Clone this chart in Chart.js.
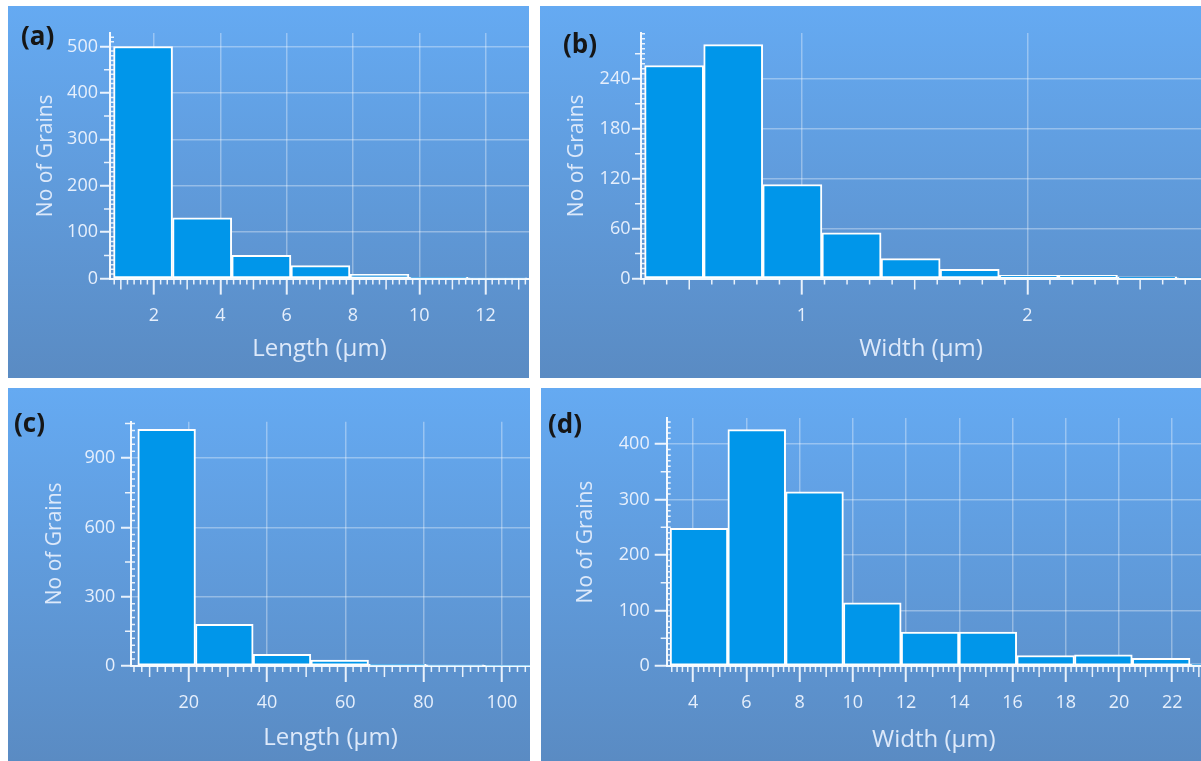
<!DOCTYPE html>
<html>
<head>
<meta charset="utf-8">
<script src="https://cdn.jsdelivr.net/npm/chart.js@4.4.1/dist/chart.umd.min.js"></script>
<style>
  html, body { margin: 0; padding: 0; background: #ffffff; }
  body { width: 1201px; height: 761px; position: relative; overflow: hidden; }
  .panel { position: absolute; background: linear-gradient(#65aaf2, #5a8bc3); }
  .panel canvas { position: absolute; left: 0; top: 0; }
  .tag { position: absolute; font: bold 26px "Open Sans", sans-serif; line-height: 26px; color: #161616; }
</style>
</head>
<body>

<div class="panel" style="left:8px;top:6px;width:521px;height:372px">
  <canvas id="chartA" width="521" height="372"></canvas>
  <div class="tag" style="left:13px;top:16px">(a)</div>
</div>
<div class="panel" style="left:540px;top:6px;width:661px;height:372px">
  <canvas id="chartB" width="661" height="372"></canvas>
  <div class="tag" style="left:23px;top:24px">(b)</div>
</div>
<div class="panel" style="left:8px;top:388px;width:522px;height:373px">
  <canvas id="chartC" width="522" height="373"></canvas>
  <div class="tag" style="left:6px;top:21px">(c)</div>
</div>
<div class="panel" style="left:541px;top:388px;width:660px;height:373px">
  <canvas id="chartD" width="660" height="373"></canvas>
  <div class="tag" style="left:7px;top:22px">(d)</div>
</div>

<script>
/* ===============================
   Data (bin centres and counts)
=============================== */

// (a) grain length
const lengthA_bins   = [1.67, 3.45, 5.24, 7.02, 8.80, 10.58, 12.36];
const lengthA_counts = [500, 131, 50, 28, 9, 3, 1];
const lengthA_xTicks = [2, 4, 6, 8, 10, 12];
const lengthA_yTicks = [0, 100, 200, 300, 400, 500];

// (b) grain width
const widthB_bins   = [0.433, 0.695, 0.957, 1.220, 1.482, 1.744, 2.006, 2.268, 2.531, 2.793];
const widthB_counts = [256, 281, 113, 55, 24, 11, 4, 4, 2, 1];
const widthB_xTicks = [1, 2];
const widthB_yTicks = [0, 60, 120, 180, 240];

// (c) grain length
const lengthC_bins   = [14.35, 29.09, 43.83, 58.57, 73.31, 88.05, 102.79];
const lengthC_counts = [1025, 181, 51, 26, 7, 5, 3];
const lengthC_xTicks = [20, 40, 60, 80, 100];
const lengthC_yTicks = [0, 300, 600, 900];

// (d) grain width
const widthD_bins   = [4.223, 6.393, 8.563, 10.733, 12.903, 15.073, 17.243, 19.413, 21.583, 23.753];
const widthD_counts = [248, 426, 314, 114, 61, 61, 19, 20, 14, 4];
const widthD_xTicks = [4, 6, 8, 10, 12, 14, 16, 18, 20, 22];
const widthD_yTicks = [0, 100, 200, 300, 400];

/* ===============================
   Styles
=============================== */

const barFill    = "#0096ea";
const barEdge    = "#ffffff";
const gridColor  = "rgba(255,255,255,0.34)";
const tickColor  = "rgba(245,250,255,0.92)";
const axisColor  = "rgba(248,252,255,0.97)";
const labelColor = "#e6effc";
const titleColor = "#dde9fa";
const fontFamily = "'Open Sans', sans-serif";

/* ===============================
   Minor tick marks
=============================== */

const minorTicks = {
    id: "minorTicks",
    afterDraw(chart, args, o) {
        const { ctx, chartArea } = chart;
        const x = chart.scales.x;
        const y = chart.scales.y;
        ctx.save();
        ctx.strokeStyle = tickColor;
        ctx.lineWidth = 1.5;
        ctx.beginPath();

        const midX = Math.round(o.xMid / o.xStep);
        for (let i = Math.ceil(x.min / o.xStep); i * o.xStep <= x.max; i++) {
            const v = i * o.xStep;
            if (o.xMajor.some(m => Math.abs(m - v) < o.xStep / 2)) continue;
            const px = x.getPixelForValue(v);
            const len = (i % midX === 0) ? 11 : 6;
            ctx.moveTo(px, chartArea.bottom);
            ctx.lineTo(px, chartArea.bottom + len);
        }

        const midY = Math.round(o.yMid / o.yStep);
        for (let i = 1; i * o.yStep <= y.max; i++) {
            const v = i * o.yStep;
            if (o.yMajor.some(m => Math.abs(m - v) < o.yStep / 2)) continue;
            const py = y.getPixelForValue(v);
            const left = (i % midY === 0) ? 6 : 0;
            ctx.moveTo(chartArea.left - left, py);
            ctx.lineTo(chartArea.left + 4, py);
        }

        ctx.stroke();
        ctx.restore();
    }
};

/* ===============================
   Chart builder
=============================== */

function makeChart(id, p) {

    new Chart(document.getElementById(id), {

        type: "bar",

        data: {
            datasets: [{
                data: p.bins.map((b, i) => ({ x: b, y: p.counts[i] })),
                backgroundColor: barFill,
                borderColor: barEdge,
                borderWidth: 2,
                borderSkipped: false,
                barThickness: "flex",
                barPercentage: 1,
                categoryPercentage: 1
            }]
        },

        options: {
            responsive: false,
            animation: false,
            layout: { padding: { left: 0, right: 0, top: p.plotTop, bottom: 0 } },
            plugins: {
                legend: { display: false },
                tooltip: { enabled: false },
                minorTicks: {
                    xStep: p.xStep, xMid: p.xMid, xMajor: p.xTicks,
                    yStep: p.yStep, yMid: p.yMid, yMajor: p.yTicks
                }
            },
            scales: {
                x: {
                    type: "linear",
                    min: p.xMin,
                    max: p.xMax,
                    offset: false,
                    afterBuildTicks: s => { s.ticks = p.xTicks.map(v => ({ value: v })); },
                    afterFit: s => { s.height = p.h - p.plotBottom; },
                    grid: { offset: false, color: gridColor, lineWidth: 1.5, tickLength: 16, tickColor: tickColor, tickWidth: 2 },
                    border: { color: axisColor, width: 2 },
                    ticks: {
                        color: labelColor,
                        font: { family: fontFamily, size: 18 },
                        padding: p.xLabelPad,
                        maxRotation: 0,
                        autoSkip: false,
                        callback: v => String(v)
                    },
                    title: {
                        display: true,
                        text: p.xTitle,
                        color: titleColor,
                        font: { family: fontFamily, size: 24 },
                        padding: { top: 0, bottom: p.xTitlePad }
                    }
                },
                y: {
                    min: 0,
                    max: p.yMax,
                    afterBuildTicks: s => { s.ticks = p.yTicks.map(v => ({ value: v })); },
                    afterFit: s => { s.width = p.plotLeft; },
                    grid: { color: gridColor, lineWidth: 1.5, tickLength: p.yTickLen, tickColor: tickColor, tickWidth: 2 },
                    border: { color: axisColor, width: 2 },
                    ticks: {
                        color: labelColor,
                        font: { family: fontFamily, size: 18 },
                        padding: p.yLabelPad,
                        callback: v => String(v)
                    },
                    title: {
                        display: true,
                        text: "No of Grains",
                        color: titleColor,
                        font: { family: fontFamily, size: 21 },
                        padding: { top: p.yTitlePad, bottom: 0 }
                    }
                }
            }
        },

        plugins: [minorTicks]
    });
}

/* ===============================
   Panels
=============================== */

makeChart("chartA", {
    bins: lengthA_bins, counts: lengthA_counts, xTicks: lengthA_xTicks, yTicks: lengthA_yTicks,
    xTitle: "Length (µm)", xMin: 0.673, xMax: 13.31, yMax: 529,
    h: 372, plotLeft: 102, plotTop: 27, plotBottom: 272.6,
    xLabelPad: 10.6, xTitlePad: 14.6, yTitlePad: 25.9, yTickLen: 10, yLabelPad: 2,
    xStep: 0.2, xMid: 1, yStep: 10, yMid: 50
});

makeChart("chartB", {
    bins: widthB_bins, counts: widthB_counts, xTicks: widthB_xTicks, yTicks: widthB_yTicks,
    xTitle: "Width (µm)", xMin: 0.286, xMax: 2.77, yMax: 295,
    h: 372, plotLeft: 101, plotTop: 27, plotBottom: 272.6,
    xLabelPad: 10.6, xTitlePad: 14.6, yTitlePad: 24.9, yTickLen: 9, yLabelPad: 1.5,
    xStep: 0.1, xMid: 0.5, yStep: 6, yMid: 30
});

makeChart("chartC", {
    bins: lengthC_bins, counts: lengthC_counts, xTicks: lengthC_xTicks, yTicks: lengthC_yTicks,
    xTitle: "Length (µm)", xMin: 5.24, xMax: 107.2, yMax: 1058,
    h: 373, plotLeft: 123, plotTop: 33.7, plotBottom: 278,
    xLabelPad: 9.9, xTitlePad: 8.6, yTitlePad: 34.4, yTickLen: 10, yLabelPad: 5.6,
    xStep: 2, xMid: 10, yStep: 30, yMid: 150
});

makeChart("chartD", {
    bins: widthD_bins, counts: widthD_counts, xTicks: widthD_xTicks, yTicks: widthD_yTicks,
    xTitle: "Width (µm)", xMin: 3.01, xMax: 23.08, yMax: 447,
    h: 373, plotLeft: 125.7, plotTop: 30, plotBottom: 278,
    xLabelPad: 9.9, xTitlePad: 6.6, yTitlePad: 32.4, yTickLen: 12, yLabelPad: 5,
    xStep: 0.2, xMid: 1, yStep: 10, yMid: 50
});
</script>
</body>
</html>
